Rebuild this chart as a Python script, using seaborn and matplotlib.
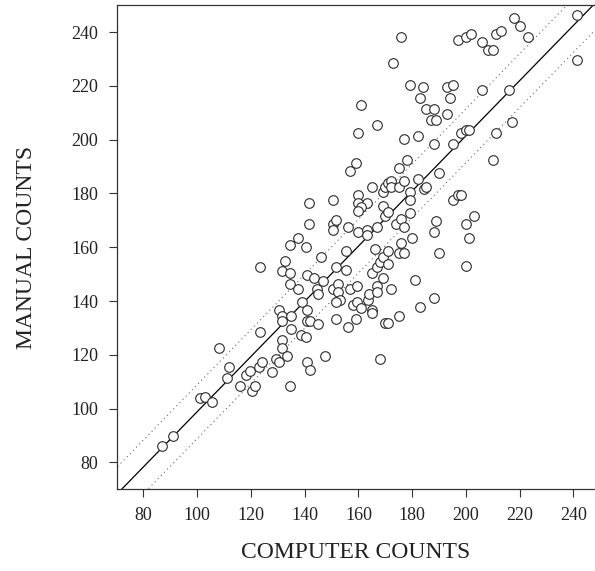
import numpy as np
import pandas as pd
import seaborn as sns
import matplotlib
matplotlib.use("Agg")
import matplotlib.pyplot as plt

# Paired counts for each sample: automated (computer) vs. manual
computer = [
    87, 91, 101, 103, 105.5, 108, 111, 112, 116, 118,
    119.5, 120.5, 121.5, 123, 124, 123.5, 123.5, 128, 129.5, 130.5,
    130.5, 131.5, 131.5, 131.5, 131.5, 131.5, 132.5, 133.5, 134.5, 134.5,
    134.5, 134.5, 135, 135, 137.5, 137.5, 138.5, 139, 140.5, 140.5,
    141, 141, 141, 142, 141, 142, 141.5, 141.5, 143.5, 144.5,
    145, 145, 146, 147, 147.5, 150.5, 150.5, 151.5, 150.5, 150.5,
    151.5, 152.5, 152.5, 153, 151.5, 151.5, 155.5, 155.5, 156, 156,
    157, 158, 159.5, 159.5, 161, 159, 157, 159, 160, 161,
    160, 160, 163, 161, 160, 160, 163, 163, 163.5, 164,
    165, 165, 165, 165, 166, 167, 167, 167, 167, 167,
    168, 168, 169, 170, 171, 169, 169, 169, 170, 171,
    171, 171, 170, 171, 172, 172, 172, 173, 174, 175,
    175, 175, 175, 176, 176, 176, 177, 177, 177, 177,
    178, 179, 179, 179, 179, 180, 181, 182, 182, 183,
    183, 184, 184.3, 185.2, 185, 187, 188, 188, 188, 188,
    189, 189, 190, 190, 193, 193, 194, 195, 195, 195,
    197, 197.2, 198.2, 198.2, 200, 200, 200, 200.1, 201.2, 201,
    202, 203, 206, 206, 208.2, 210.2, 210, 211, 211, 213,
    216, 217, 218, 220, 223, 241.2, 241.3,
]
manual = [
    86, 90, 104, 104.5, 102.5, 122.5, 111.5, 115.5, 108.5, 112.5,
    114, 106.5, 108.5, 115.5, 117.5, 128.5, 152.5, 113.5, 118.5, 117.5,
    136.5, 134.5, 132.5, 125.5, 122.5, 151, 155, 119.5, 108.5, 150.5,
    146.5, 161, 134.5, 129.5, 144.5, 163.5, 127.5, 139.5, 126.5, 160,
    149.5, 136.5, 132.5, 132.5, 117.5, 114.5, 176.5, 168.5, 148.5, 144.5,
    142.5, 131.5, 156.5, 147.5, 119.5, 177.5, 168.5, 170, 166.5, 144.5,
    152.5, 146.5, 143.5, 140.5, 139.5, 133.5, 151.5, 158.5, 167.5, 130.5,
    144.5, 138.5, 139.5, 145.5, 137.5, 133.5, 188.5, 191.5, 202.5, 213,
    179.5, 176.5, 176.5, 175, 173.5, 165.5, 166.5, 164.5, 140.5, 142.5,
    182.5, 150.5, 136.5, 135.5, 159.5, 205.5, 167.5, 152.5, 145.5, 143.5,
    154.5, 118.5, 180.5, 182.5, 184, 175.5, 156.5, 148.5, 171.5, 158.7,
    153.8, 173, 131.7, 131.7, 184.5, 182.3, 144.5, 228.5, 168.5, 189.5,
    182.3, 157.7, 134.5, 238, 170.6, 161.6, 200.3, 184.5, 167.5, 157.7,
    192.3, 220.3, 180.5, 177.4, 172.7, 163.5, 147.7, 201.4, 185.4, 215.4,
    137.7, 219.4, 181.6, 182.4, 211.4, 207.4, 211.4, 198.5, 165.6, 141,
    207.4, 169.6, 187.5, 157.7, 219.4, 209.4, 215.5, 220.3, 198.5, 177.5,
    237.2, 179.5, 179.5, 202.4, 238.2, 168.6, 152.9, 203.5, 203.5, 163.6,
    239.4, 171.6, 236.3, 218.4, 233.4, 233.4, 192.4, 239.3, 202.5, 240.3,
    218.4, 206.4, 245.2, 242.2, 238.2, 246.3, 229.6,
]

# Fitted line (manual = slope * computer + intercept) and its band half-width
fit_slope = 1.026
fit_intercept = -3.75
band_halfwidth = 10.0

x_ticks = [80, 100, 120, 140, 160, 180, 200, 220, 240]
y_ticks = [80, 100, 120, 140, 160, 180, 200, 220, 240]

df = pd.DataFrame({"computer": computer, "manual": manual})

sns.set_theme(style="white")
plt.rcParams["font.family"] = ["Liberation Serif", "DejaVu Serif"]

fig = plt.figure(figsize=(5.95, 5.71), dpi=100)
ax = fig.add_axes([0.1958, 0.143, 0.8042, 0.848])

xs = np.linspace(60, 260, 50)
fit = fit_slope * xs + fit_intercept
ax.plot(xs, fit, color="black", lw=0.9, zorder=2)
ax.plot(xs, fit + band_halfwidth, color="#666666", lw=0.8, ls=(0, (1, 3)), zorder=1)
ax.plot(xs, fit - band_halfwidth, color="#666666", lw=0.8, ls=(0, (1, 3)), zorder=1)

sns.scatterplot(data=df, x="computer", y="manual", ax=ax, s=48, marker="o",
                facecolor="white", edgecolor="#2a2a2a", linewidth=0.8, zorder=3,
                legend=False)

ax.set_xlim(70, 248)
ax.set_ylim(70, 250)
ax.set_xticks(x_ticks)
ax.set_yticks(y_ticks)
ax.tick_params(axis="both", which="major", direction="out", length=6, width=0.8,
               labelsize=13, color="#333333", labelcolor="#222222", pad=7)
ax.tick_params(axis="x", bottom=True)
ax.tick_params(axis="y", left=True)

for side in ["left", "bottom", "top"]:
    ax.spines[side].set_visible(True)
    ax.spines[side].set_color("#333333")
    ax.spines[side].set_linewidth(0.9)
ax.spines["right"].set_visible(False)

ax.set_xlabel("COMPUTER COUNTS", fontsize=17, color="#222222", labelpad=13)
ax.set_ylabel("MANUAL COUNTS", fontsize=17, color="#222222", labelpad=25)

fig.savefig("out.png", dpi=100)
